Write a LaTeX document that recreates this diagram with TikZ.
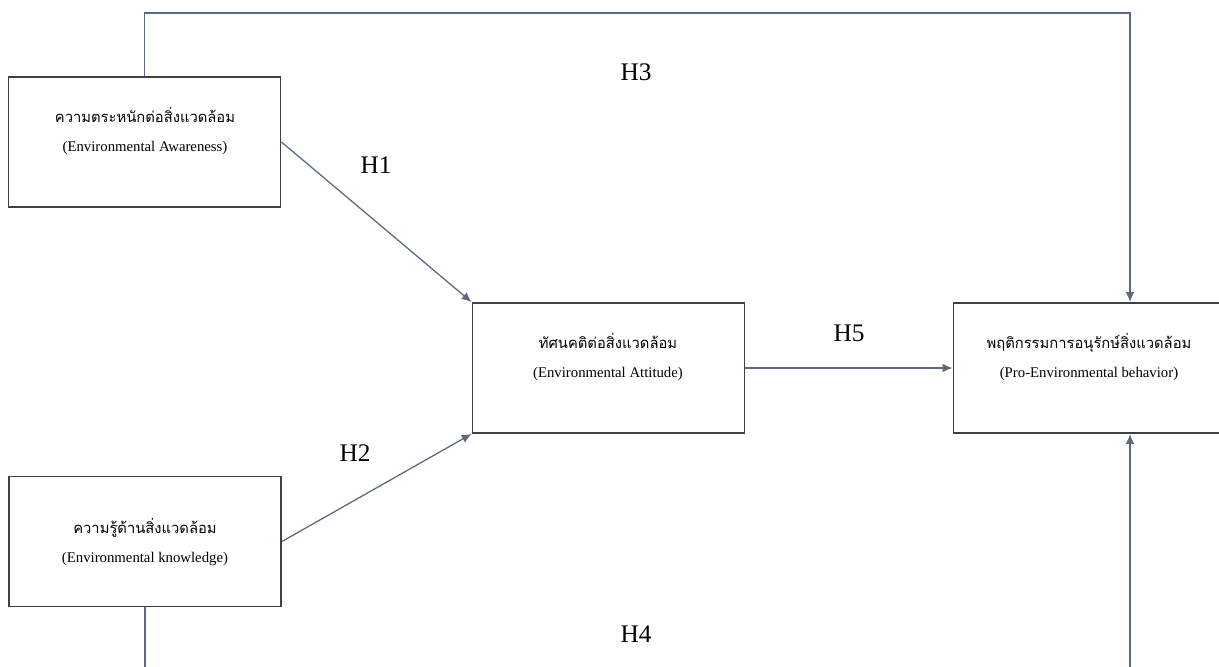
\documentclass[tikz,border=0pt]{standalone}
\usepackage{fontspec}
\setmainfont{Liberation Serif}
\newfontfamily\thaifont[Script=Thai]{Loma}
\usetikzlibrary{arrows.meta}
\definecolor{linec}{HTML}{5A6880}
\definecolor{boxc}{HTML}{404040}
\begin{document}
\begin{tikzpicture}[x=0.025cm, y=-0.025cm,
  box/.style={draw=boxc, line width=1.3pt, minimum width=6.8cm, minimum height=3.25cm, inner sep=0pt},
  txt/.style={align=center, font=\fontsize{10.5}{20.5}\selectfont},
  hlab/.style={font=\fontsize{18}{20}\selectfont},
  link/.style={draw=linec, line width=0.9pt, -{Latex[length=7pt,width=6pt]}}]
\clip (0,0) rectangle (1219,666);
\node[box] (aware) at (144.5,142){};
\node[box] (know) at (145,541.5){};
\node[box] (attit) at (608.5,368){};
\node[box] (pro) at (1089.5,368){};
\node[txt] (awaretxt) at (145,131){{\thaifont ความตระหนักต่อสิ่งแวดล้อม}\\(Environmental Awareness)};
\node[txt] (knowtxt) at (145,542){{\thaifont ความรู้ด้านสิ่งแวดล้อม}\\(Environmental knowledge)};
\node[txt] (attittxt) at (608,357){{\thaifont ทัศนคติต่อสิ่งแวดล้อม}\\(Environmental Attitude)};
\node[txt] (protxt) at (1089,357){{\thaifont พฤติกรรมการอนุรักษ์สิ่งแวดล้อม}\\(Pro-Environmental behavior)};
\coordinate (h3top) at (1130,13);
\coordinate (h4bot) at (1130,700);
\draw[link](aware.east) -- (attit.north west);
\draw[link](know.east) -- (attit.south west);
\draw[link](attit.east) -- (pro.west);
\draw[link](aware.north) |- (h3top) -- (h3top |- pro.north);
\draw[link](know.south) |- (h4bot) -- (h4bot |- pro.south);
\node[hlab] (h1) at (376,165){H1};
\node[hlab] (h2) at (355,453){H2};
\node[hlab] (h3) at (636,72){H3};
\node[hlab] (h4) at (636,634){H4};
\node[hlab] (h5) at (849,333){H5};
\end{tikzpicture}
\end{document}
